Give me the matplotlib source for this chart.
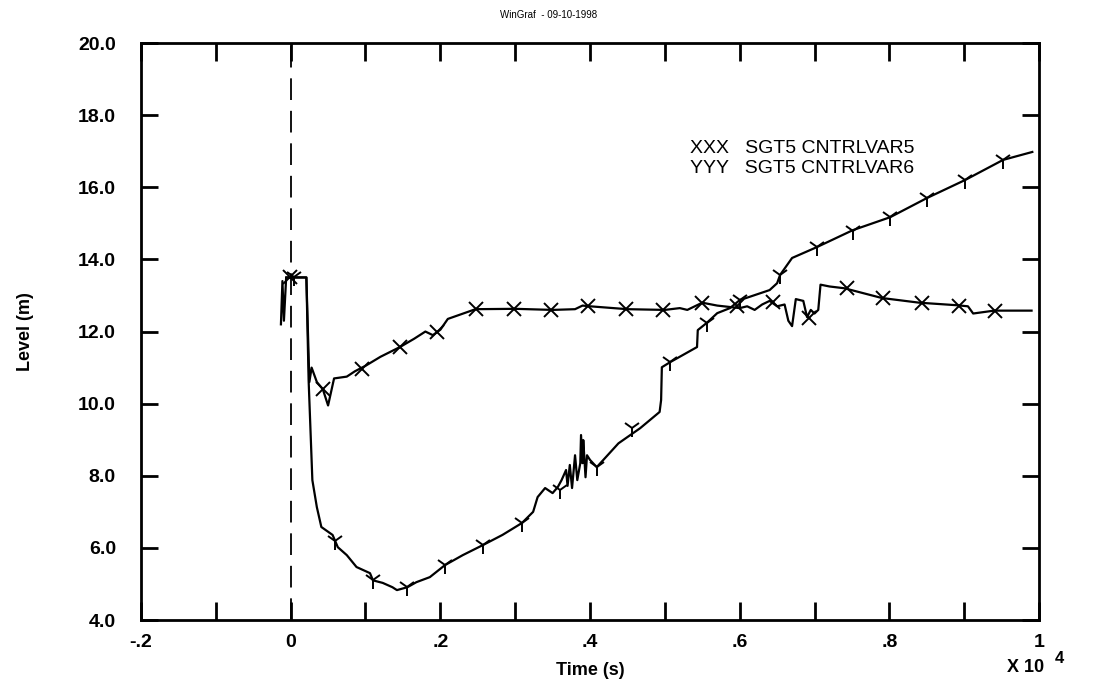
import matplotlib
matplotlib.use("Agg")
import matplotlib.pyplot as plt
from matplotlib.ticker import MultipleLocator, FuncFormatter

plt.rcParams['font.family'] = ['Liberation Sans', 'DejaVu Sans']

# time in units of 1e4 s
var5_t = [-0.013, -0.011, -0.009, -0.006, 0.021, 0.025, 0.028, 0.035, 0.043, 0.050,
          0.058, 0.075, 0.086, 0.100, 0.120, 0.146, 0.165, 0.180, 0.190, 0.200,
          0.210, 0.247, 0.300, 0.350, 0.380, 0.390, 0.400, 0.450, 0.500, 0.520,
          0.530, 0.540, 0.550, 0.570, 0.600, 0.610, 0.620, 0.630, 0.640, 0.650,
          0.660, 0.665, 0.670, 0.675, 0.685, 0.690, 0.695, 0.700, 0.705, 0.708,
          0.720, 0.740, 0.790, 0.840, 0.890, 0.905, 0.912, 0.940, 0.990]
var5_y = [12.2, 13.4, 12.3, 13.5, 13.5, 10.6, 11.0, 10.6, 10.4, 9.95,
          10.7, 10.75, 10.9, 11.05, 11.3, 11.57, 11.8, 12.0, 11.9, 12.05,
          12.35, 12.62, 12.63, 12.6, 12.62, 12.72, 12.7, 12.62, 12.6, 12.65,
          12.6, 12.7, 12.8, 12.72, 12.65, 12.7, 12.6, 12.75, 12.85, 12.7,
          12.75, 12.3, 12.15, 12.9, 12.85, 12.4, 12.6, 12.5, 12.6, 13.3,
          13.25, 13.2, 12.93, 12.8, 12.73, 12.7, 12.5, 12.58, 12.58]
var5_mark_t = [-0.001, 0.043, 0.095, 0.146, 0.195, 0.247, 0.298, 0.348, 0.397, 0.448,
               0.497, 0.549, 0.596, 0.644, 0.693, 0.743, 0.791, 0.844, 0.893, 0.941]
var5_mark_y = [13.5, 10.4, 10.95, 11.57, 12.0, 12.62, 12.62, 12.6, 12.71, 12.62,
               12.6, 12.8, 12.7, 12.82, 12.37, 13.2, 12.93, 12.79, 12.72, 12.58]

var6_t = [-0.006, 0.021, 0.024, 0.029, 0.035, 0.041, 0.056, 0.063, 0.075, 0.088,
          0.106, 0.110, 0.123, 0.136, 0.142, 0.156, 0.168, 0.186, 0.206, 0.230,
          0.257, 0.283, 0.309, 0.324, 0.330, 0.340, 0.350, 0.357, 0.362, 0.368,
          0.370, 0.373, 0.376, 0.380, 0.383, 0.387, 0.388, 0.390, 0.391, 0.394,
          0.396, 0.400, 0.409, 0.438, 0.467, 0.493, 0.495, 0.496, 0.507, 0.543,
          0.544, 0.556, 0.570, 0.587, 0.600, 0.640, 0.650, 0.654, 0.670, 0.703,
          0.751, 0.801, 0.850, 0.901, 0.952, 0.991]
var6_y = [13.5, 13.5, 10.65, 7.88, 7.13, 6.58, 6.36, 6.02, 5.8, 5.47,
          5.3, 5.1, 5.03, 4.91, 4.83, 4.91, 5.05, 5.19, 5.52, 5.8,
          6.08, 6.36, 6.69, 7.0, 7.41, 7.66, 7.52, 7.69, 7.88, 8.16,
          7.72, 8.3, 7.66, 8.57, 7.88, 8.35, 9.13, 8.35, 8.99, 7.96,
          8.57, 8.44, 8.24, 8.9, 9.32, 9.77, 10.1, 11.01, 11.15, 11.57,
          12.04, 12.24, 12.51, 12.65, 12.87, 13.15, 13.34, 13.57, 14.04, 14.34,
          14.81, 15.17, 15.7, 16.2, 16.76, 16.98]
var6_mark_t = [0.004, 0.059, 0.110, 0.156, 0.206, 0.257, 0.309, 0.360, 0.409, 0.456,
               0.507, 0.556, 0.600, 0.654, 0.703, 0.751, 0.801, 0.850, 0.901, 0.952]
var6_mark_y = [13.5, 6.2, 5.1, 4.91, 5.52, 6.08, 6.69, 7.6, 8.24, 9.32,
               11.15, 12.24, 12.87, 13.57, 14.34, 14.8, 15.17, 15.7, 16.2, 16.76]

fig = plt.figure(figsize=(10.98, 6.9), dpi=100)
ax = fig.add_axes([0.1284, 0.1014, 0.8179, 0.8362])

ax.plot(var5_t, var5_y, color="black", lw=1.6)
ax.plot(var6_t, var6_y, color="black", lw=1.6)
ax.plot(var5_mark_t, var5_mark_y, ls="none", marker="x", ms=10, mew=1.4, color="black")
ax.plot(var6_mark_t, var6_mark_y, ls="none", marker="1", ms=13, mew=1.4, color="black")

ax.axvline(0, color="black", lw=1.3, ls=(0, (12, 6)))

ax.set_xlim(-0.2, 1.0)
ax.set_ylim(4.0, 20.0)
ax.xaxis.set_major_locator(MultipleLocator(0.1))
ax.yaxis.set_major_locator(MultipleLocator(2.0))


def xfmt(v, pos):
    k = int(round(v * 10))
    if k % 2:
        return ""
    if k == 0:
        return "0"
    if k == 10:
        return "1"
    return ("-" if k < 0 else "") + "." + str(abs(k))


ax.xaxis.set_major_formatter(FuncFormatter(xfmt))
ax.yaxis.set_major_formatter(FuncFormatter(lambda v, p: "%.1f" % v))
ax.tick_params(axis="x", direction="in", length=13, width=2, top=True,
               labelsize=14, pad=10)
ax.tick_params(axis="y", direction="in", length=12, width=2, right=True,
               labelsize=14, pad=18)
for lab in ax.get_xticklabels() + ax.get_yticklabels():
    lab.set_fontweight("bold")
for s in ax.spines.values():
    s.set_linewidth(2)

ax.set_xlabel("Time (s)", fontsize=13, fontweight="bold", labelpad=8)
ax.set_ylabel("Level (m)", fontsize=13, fontweight="bold", labelpad=32)

fig.text(0.5, 0.978, "WinGraf  - 09-10-1998", fontsize=7, ha="center", va="center")
fig.text(0.917, 0.032, "X 10", fontsize=13, fontweight="bold", ha="left", va="center")
fig.text(0.961, 0.045, "4", fontsize=12, fontweight="bold", ha="left", va="center")

ax.text(0.611, 0.818, "XXX   SGT5 CNTRLVAR5", transform=ax.transAxes,
        fontsize=14, va="center")
ax.text(0.611, 0.783, "YYY   SGT5 CNTRLVAR6", transform=ax.transAxes,
        fontsize=14, va="center")

fig.savefig("out.png", dpi=100)
